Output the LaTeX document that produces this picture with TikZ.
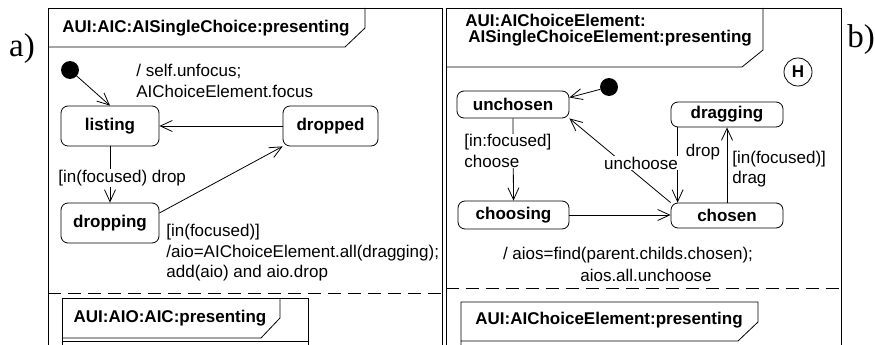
\documentclass[tikz,border=0pt]{standalone}
\usepackage{fontspec}
\setmainfont{Liberation Sans}
\newfontfamily\serifab{Liberation Serif}
\usetikzlibrary{arrows.meta,calc}
\begin{document}
\begin{tikzpicture}[x=1pt,y=-1pt,line width=0.8pt,
  statebox/.style={draw,rounded corners=7pt,inner sep=0pt,font=\fontsize{17}{20}\selectfont\bfseries},
  lbl/.style={inner sep=1pt,align=left,font=\fontsize{17}{20.5}\selectfont},
  wlbl/.style={lbl,fill=white},
  ttl/.style={inner sep=0pt,align=left,font=\fontsize{17}{16.5}\selectfont\bfseries},
  initst/.style={circle,fill=black,draw=black,minimum size=17pt,inner sep=0pt},
  tr/.style={-{Straight Barb[length=12pt,width=11pt]}},
  sepline/.style={dash pattern=on 13pt off 7pt},
  panel/.style={font=\serifab\fontsize{33}{33}\selectfont,inner sep=0pt}]
\useasboundingbox (0,0) rectangle (875,345);

% ---------- panel labels ----------
\node[panel] (pa) at (22,49) {a)};
\node[panel] (pb) at (861,40) {b)};

% ---------- left frame ----------
\draw (48,345) -- (48,8) -- (442,8) -- (442,345);
\draw (48,47) -- (345,47) -- (365,28) -- (365,8);
\node[ttl] (titleL) at (206,28) {AUI:AIC:AISingleChoice:presenting};

\node[initst] (initL) at (70,70) {};
\node[statebox,minimum width=98pt,minimum height=40pt] (listing) at (110,126) {listing};
\node[statebox,minimum width=95pt,minimum height=40pt] (dropped) at (330.5,126) {dropped};
\node[statebox,minimum width=98pt,minimum height=40pt] (dropping) at (110,223) {dropping};

\draw[tr] (initL) -- (listing.north);
\draw[tr] (dropped.west) -- (listing.east);
\draw[tr] (listing.south) -- (dropping.north);
\draw[tr] ($(dropping.east)+(0,-10)$) -- (dropped.south west);

\node[lbl,anchor=west] (lblFocus) at (135,81) {/ self.unfocus;\\AIChoiceElement.focus};
\node[wlbl,anchor=west] (lblDrop) at (57,178) {[in(focused) drop};
\node[lbl,anchor=north west] (lblAio) at (165,223) {[in(focused)]\\/aio=AIChoiceElement.all(dragging);\\add(aio) and aio.drop};

\draw[sepline] (48,293) -- (442,293);
\draw (62,345) -- (62,298) -- (308,298) -- (308,345);
\draw (62,341) -- (308,341);
\draw (62,338) -- (261,338) -- (280,318) -- (280,298);
\node[ttl] (subL) at (170,318) {AUI:AIO:AIC:presenting};

% ---------- right frame ----------
\draw (446,345) -- (446,8) -- (841,8) -- (841,345);
\draw (446,67) -- (742,67) -- (763,50) -- (763,8);
\node[ttl,anchor=west] (titleR) at (465,30) {AUI:AIChoiceElement:\\\hspace*{3pt}AISingleChoiceElement:presenting};

\node[circle,draw,minimum size=28pt,inner sep=0pt,font=\fontsize{17}{20}\selectfont\bfseries] (hist) at (798,72) {H};

\node[initst] (initR) at (609,87) {};
\node[statebox,minimum width=112pt,minimum height=27pt] (unchosen) at (513,104.5) {unchosen};
\node[statebox,minimum width=112pt,minimum height=25pt] (dragging) at (727,114.5) {dragging};
\node[statebox,minimum width=111pt,minimum height=28pt] (choosing) at (513.5,215) {choosing};
\node[statebox,minimum width=112pt,minimum height=25pt] (chosen) at (727,215.5) {chosen};

\draw[tr] (initR) -- ($(unchosen.east)+(0,-7)$);
\draw[tr] (unchosen.south) -- (choosing.north);
\draw[tr] (chosen.north west) -- (unchosen.south east);
\draw[tr] (choosing.east) -- (choosing.east -| chosen.west);
\draw[tr] ($(dragging.south west)+(7,0)$) -- ($(chosen.north west)+(7,0)$);
\draw[tr] (chosen.north) -- (dragging.south);

\node[wlbl,anchor=west] (lblChoose) at (463,151) {[in:focused]\\choose};
\node[wlbl] (lblUnchoose) at (641,163) {unchoose};
\node[lbl] (lblDropR) at (703,152) {drop};
\node[lbl,anchor=west] (lblDrag) at (731,169) {[in(focused)]\\drag};
\node[lbl] (lblAios) at (628,255) {/ aios=find(parent.childs.chosen);};
\node[lbl] (lblAll) at (646,275) {aios.all.unchoose};

\draw[sepline] (446,288) -- (841,288);
\draw (461,345) -- (461,302) -- (758,302) -- (758,322) -- (738,341) -- (461,341);
\node[ttl] (subR) at (609,320) {AUI:AIChoiceElement:presenting};
\end{tikzpicture}
\end{document}
